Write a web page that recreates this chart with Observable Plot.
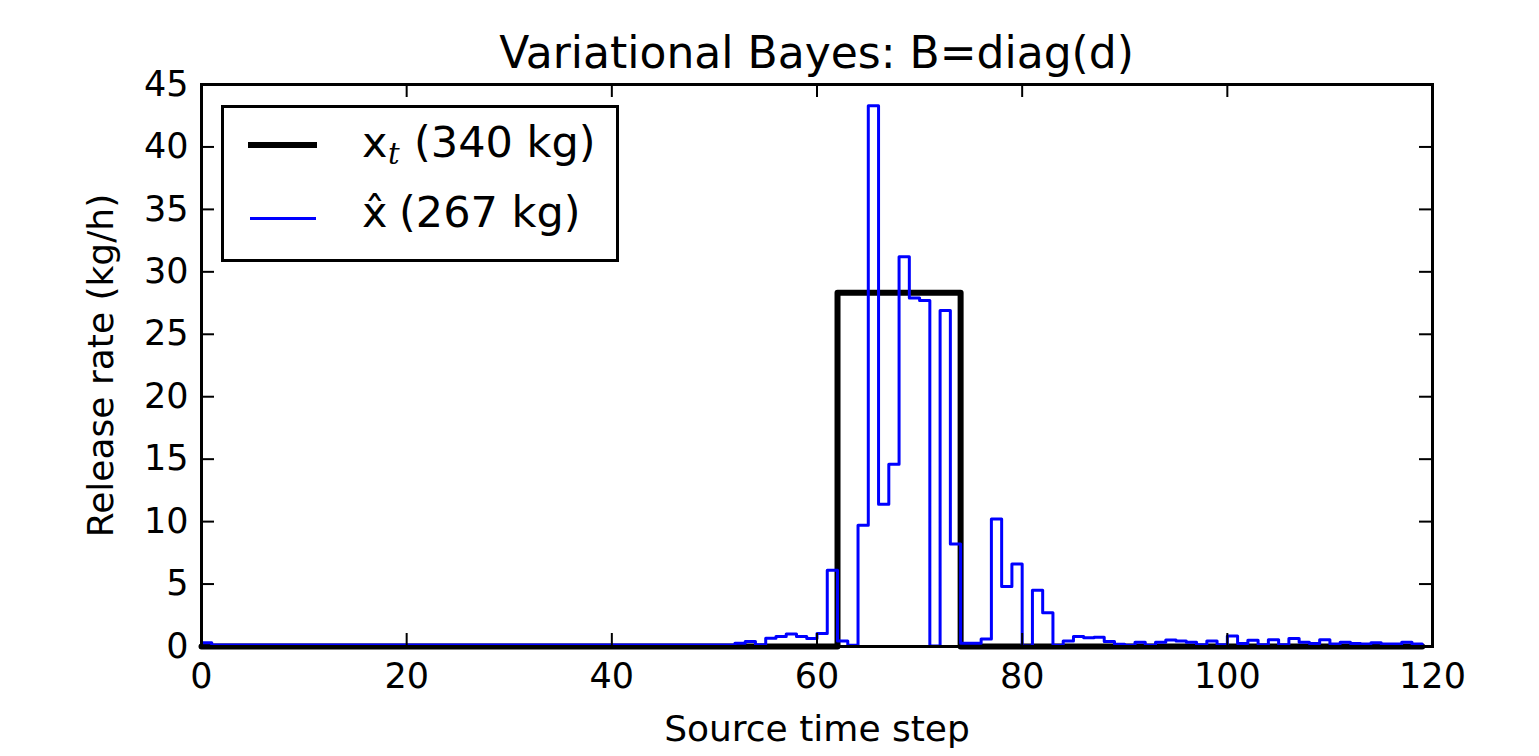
<!DOCTYPE html>
<html><head><meta charset="utf-8">
<script src="https://cdn.jsdelivr.net/npm/d3@7"></script>
<script src="https://cdn.jsdelivr.net/npm/@observablehq/plot@0.6"></script>
<style>
body{margin:0;background:#fff;font-family:"DejaVu Sans",sans-serif;color:#000;}
#wrap{position:relative;width:1539px;height:756px;overflow:hidden;background:#fff;}
#title{height:76px;box-sizing:border-box;padding:31px 107px 0 201px;font-size:44px;line-height:44px;text-align:center;white-space:nowrap;}
#legend{position:absolute;left:221px;top:105px;width:398px;height:157px;box-sizing:border-box;border:3px solid #000;background:#fff;}
.lg{position:absolute;font-size:43px;line-height:43px;white-space:nowrap;}
.sw{position:absolute;}
</style></head>
<body>
<div id="wrap">
  <div id="title">Variational Bayes: B=diag(d)</div>
  <div id="chart"></div>
  <div id="legend"></div>
  <div class="sw" style="left:248px;top:142px;width:69px;height:6px;background:#000;"></div>
  <div class="lg" style="left:362px;top:121px;">x</div>
  <div class="lg" style="left:388px;top:140px;font-size:29px;line-height:29px;font-family:'DejaVu Serif';font-style:italic;">t</div>
  <div class="lg" style="left:414px;top:121px;">(340 kg)</div>
  <div class="sw" style="left:250px;top:217px;width:66px;height:3px;background:#0000ff;"></div>
  <div class="lg" style="left:362px;top:191px;">x&#770;</div>
  <div class="lg" style="left:399px;top:191px;">(267 kg)</div>
</div>
<script>
// Source time steps 0..119 (index = position in the arrays)
const trueRate = [
  0,0,0,0,0,0,0,0,0,0, 0,0,0,0,0,0,0,0,0,0,
  0,0,0,0,0,0,0,0,0,0, 0,0,0,0,0,0,0,0,0,0,
  0,0,0,0,0,0,0,0,0,0, 0,0,0,0,0,0,0,0,0,0,
  0,0,28.33,28.33,28.33,28.33,28.33,28.33,28.33,28.33, 28.33,28.33,28.33,28.33,0,0,0,0,0,0,
  0,0,0,0,0,0,0,0,0,0, 0,0,0,0,0,0,0,0,0,0,
  0,0,0,0,0,0,0,0,0,0, 0,0,0,0,0,0,0,0,0,0
];
const estRate = [
  0.3,0.12,0.12,0.12,0.12,0.12,0.12,0.12,0.12,0.12,
  0.12,0.12,0.12,0.12,0.12,0.12,0.12,0.12,0.12,0.12,
  0.12,0.12,0.12,0.12,0.12,0.12,0.12,0.12,0.12,0.12,
  0.12,0.12,0.12,0.12,0.12,0.12,0.12,0.12,0.12,0.12,
  0.12,0.12,0.12,0.12,0.12,0.12,0.12,0.12,0.12,0.12,
  0.12,0.12,0.27,0.4,0.15,0.67,0.8,1.0,0.8,0.65,
  1.05,6.1,0.45,0.1,9.7,43.3,11.4,14.6,31.2,27.9,
  27.7,0.05,26.9,8.2,0.27,0.27,0.6,10.2,4.8,6.6,
  0.05,4.5,2.7,0.1,0.45,0.8,0.7,0.75,0.4,0.18,
  0.1,0.35,0.1,0.35,0.53,0.45,0.35,0.15,0.45,0.15,
  0.85,0.25,0.5,0.15,0.55,0.15,0.65,0.35,0.25,0.55,
  0.2,0.35,0.25,0.2,0.3,0.2,0.2,0.35,0.2,0.2
];
const xTicks = [0,20,40,60,80,100,120];
const yTicks = [0,5,10,15,20,25,30,35,40,45];
const xLabel = "Source time step";
const yLabel = "Release rate (kg/h)";

const trueData = trueRate.map((v,i)=>({t:i, v}));
const estData = estRate.map((v,i)=>({t:i, v}));

const W=1539, H=680, mL=201, mR=107, mT=8, mB=110;
const pw = W-mL-mR, ph = H-mT-mB, tl = 13;

const chart = Plot.plot({
  width:W, height:H, marginLeft:mL, marginRight:mR, marginTop:mT, marginBottom:mB,
  style:{fontFamily:"DejaVu Sans", fontSize:"35px", color:"#000", background:"#fff", overflow:"visible"},
  x:{domain:[0,120]},
  y:{domain:[0,45]},
  marks:[
    Plot.line(trueData,{x:"t", y:"v", curve:"step-after", stroke:"#000", strokeWidth:6, strokeLinejoin:"round"}),
    Plot.line(estData,{x:"t", y:"v", curve:"step-after", stroke:"#0000ff", strokeWidth:3, strokeLinejoin:"round"}),
    Plot.tickX(xTicks,{x:d=>d, insetTop:ph-tl, stroke:"#000", strokeWidth:2}),
    Plot.tickX(xTicks,{x:d=>d, insetBottom:ph-tl, stroke:"#000", strokeWidth:2}),
    Plot.tickY(yTicks,{y:d=>d, insetRight:pw-tl, stroke:"#000", strokeWidth:2}),
    Plot.tickY(yTicks,{y:d=>d, insetLeft:pw-tl, stroke:"#000", strokeWidth:2}),
    Plot.frame({stroke:"#000", strokeWidth:3}),
    Plot.axisX(xTicks,{anchor:"bottom", tickSize:0, tickPadding:17, fontSize:35, label:null}),
    Plot.axisX({anchor:"bottom", ticks:[], tickSize:0, fontSize:36, label:xLabel, labelAnchor:"center", labelArrow:"none", labelOffset:94}),
    Plot.axisY(yTicks,{anchor:"left", tickSize:0, tickPadding:13, fontSize:35, label:null}),
    Plot.axisY({anchor:"left", ticks:[], tickSize:0, fontSize:36, label:yLabel, labelAnchor:"center", labelArrow:"none", labelOffset:114})
  ]
});
document.getElementById("chart").appendChild(chart);
</script>
</body></html>
